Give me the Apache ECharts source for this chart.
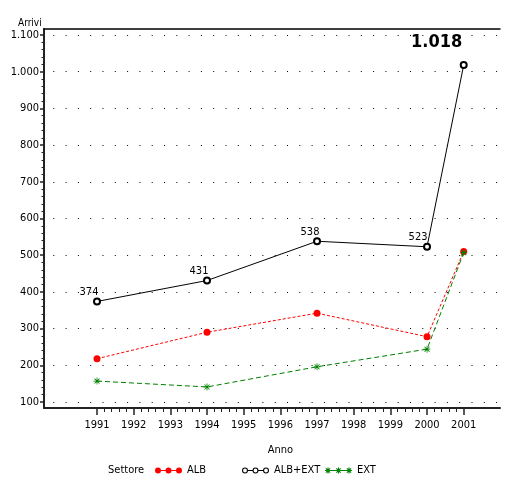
<!DOCTYPE html>
<html><head><meta charset="utf-8">
<script src="https://cdn.jsdelivr.net/npm/echarts@6/dist/echarts.min.js"></script>
<style>html,body{margin:0;padding:0;background:#fff}#c{width:505px;height:480px}</style>
</head><body><div id="c"></div>
<script>
// ---- data ----
const years = [1991, 1994, 1997, 2000, 2001];
const alb = [218, 290, 342, 278, 510];
const albExt = [374, 431, 538, 523, 1018];
const ext = [157, 141, 196, 244, 507];
const seriesNames = ['ALB', 'ALB+EXT', 'EXT'];
const xMin = 1991, xMax = 2001;
const yMin = 100, yMax = 1100, yStep = 100;
const xTitle = 'Anno', yTitle = 'Arrivi', legendTitle = 'Settore';

// ---- styles ----
const FONT = "'DejaVu Sans Condensed', 'Liberation Sans Narrow', sans-serif";
const fmt = v => String(Math.round(v)).replace(/\B(?=(\d{3})+(?!\d))/g, '.');
const circ = (cx, cy, r, rev) => `M${cx - r},${cy}a${r},${r} 0 1,${rev ? 1 : 0} ${2 * r},0a${r},${r} 0 1,${rev ? 1 : 0} ${-2 * r},0Z`;
const star = (cx, cy, r) => {
  const t = 0.55, d = r * 0.707;
  return `M${cx - r},${cy - t}h${2 * r}v${2 * t}h${-2 * r}Z` +
    `M${cx - t},${cy - r}h${2 * t}v${2 * r}h${-2 * t}Z` +
    `M${cx - d - 0.4},${cy - d + 0.4}L${cx - d + 0.4},${cy - d - 0.4}L${cx + d + 0.4},${cy + d - 0.4}L${cx + d - 0.4},${cy + d + 0.4}Z` +
    `M${cx + d - 0.4},${cy - d - 0.4}L${cx + d + 0.4},${cy - d + 0.4}L${cx - d + 0.4},${cy + d + 0.4}L${cx - d - 0.4},${cy + d - 0.4}Z`;
};
const seg = (x0, x1) => `M${x0},2.5h${x1 - x0}v1h${x0 - x1}Z`;
const cxs = [3, 13.5, 24];
const iconALB = 'path://' + cxs.map(c => circ(c, 3, 3)).join('') + seg(6, 10.5) + seg(16.5, 21);
const iconALBEXT = 'path://' + cxs.map(c => circ(c, 3, 3) + circ(c, 3, 1.9, true)).join('') + seg(6, 10.5) + seg(16.5, 21);
const iconEXT = 'path://' + cxs.map(c => star(c, 3, 3)).join('') + seg(6, 10.5) + seg(16.5, 21);
const starSymbol = 'path://' + star(5, 5, 5);

const labelStyle = [
  { offset: [-8, 0], fontSize: 11, fontWeight: 'normal' },
  { offset: [-8, 0], fontSize: 11, fontWeight: 'normal' },
  { offset: [-7, 0], fontSize: 11, fontWeight: 'normal' },
  { offset: [-9, 0], fontSize: 11, fontWeight: 'normal' },
  { offset: [-27, -10], fontSize: 18, fontWeight: 'bold' }
];

const pairs = vals => years.map((y, i) => [y, vals[i]]);

const chart = echarts.init(document.getElementById('c'), null, { renderer: 'canvas' });
const hidden = { axisLine: { show: false }, axisTick: { show: false }, axisLabel: { show: false }, splitLine: { show: false } };
const axisLineStyle = { color: '#222', width: 2 };

chart.setOption({
  animation: false,
  backgroundColor: '#fff',
  textStyle: { fontFamily: FONT },
  title: [
    { text: yTitle, left: 18, top: 18, padding: 0, textStyle: { fontFamily: FONT, fontSize: 10, fontWeight: 'normal', color: '#000' } },
    { text: legendTitle, left: 108, top: 465, padding: 0, textStyle: { fontFamily: FONT, fontSize: 11, fontWeight: 'normal', color: '#000' } }
  ],
  legend: [
    { data: [seriesNames[0]], left: 155, top: 465, icon: iconALB },
    { data: [seriesNames[1]], left: 242, top: 465, icon: iconALBEXT },
    { data: [seriesNames[2]], left: 325, top: 465, icon: iconEXT }
  ].map(l => Object.assign(l, {
    itemWidth: 27, itemHeight: 6, itemGap: 5, selectedMode: false, padding: 0,
    itemStyle: { borderWidth: 0 },
    textStyle: { fontFamily: FONT, fontSize: 11, color: '#000' }
  })),
  grid: [
    { left: 44, right: 5, top: 29, bottom: 72 },
    { left: 44, right: 5, top: 35, bottom: 78 },
    { left: 97, right: 41.3, top: 35, bottom: 78 }
  ],
  xAxis: [
    Object.assign({ gridIndex: 0, type: 'value', min: 0, max: 1, position: 'bottom' }, hidden, { axisLine: { show: true, lineStyle: axisLineStyle } }),
    Object.assign({ gridIndex: 0, type: 'value', min: 0, max: 1, position: 'top' }, hidden, { axisLine: { show: true, lineStyle: { color: '#000', width: 1.5 } } }),
    Object.assign({ gridIndex: 1, type: 'value', min: 0, max: 1 }, hidden),
    {
      gridIndex: 2, type: 'value', min: xMin, max: xMax, interval: 1, position: 'bottom', offset: 6,
      name: xTitle, nameLocation: 'middle', nameGap: 37,
      nameTextStyle: { fontFamily: FONT, fontSize: 11, color: '#000' },
      axisLine: { show: false },
      axisTick: { show: true, length: 7, lineStyle: { color: '#222', width: 1.5 } },
      minorTick: { show: true, splitNumber: 5, length: 4, lineStyle: { color: '#222', width: 1 } },
      axisLabel: { margin: 12, fontFamily: FONT, fontSize: 11, color: '#000', formatter: v => String(v) },
      splitLine: { show: false }
    }
  ],
  yAxis: [
    Object.assign({ gridIndex: 0, type: 'value', min: 0, max: 1 }, hidden, { axisLine: { show: true, lineStyle: axisLineStyle } }),
    Object.assign({ gridIndex: 1, type: 'value', min: yMin, max: yMax, interval: yStep }, hidden, {
      splitLine: { show: true, lineStyle: { color: '#000', width: 1, type: [1, 11.3], dashOffset: 3 } }
    }),
    {
      gridIndex: 2, type: 'value', min: yMin, max: yMax, interval: yStep, position: 'left', offset: 53,
      axisLine: { show: false },
      axisTick: { show: true, length: 4, lineStyle: { color: '#222', width: 1.5 } },
      minorTick: { show: true, splitNumber: 5, length: 2.5, lineStyle: { color: '#222', width: 1 } },
      axisLabel: { margin: 5, fontFamily: FONT, fontSize: 11, color: '#000', formatter: v => fmt(v) },
      splitLine: { show: false }
    }
  ],
  series: [
    {
      name: seriesNames[0], type: 'line', xAxisIndex: 3, yAxisIndex: 2,
      data: pairs(alb), symbol: 'circle', symbolSize: 7,
      itemStyle: { color: '#ff0000' },
      lineStyle: { color: '#ff0000', width: 1, type: [3, 2] }
    },
    {
      name: seriesNames[2], type: 'line', xAxisIndex: 3, yAxisIndex: 2,
      data: pairs(ext), symbol: starSymbol, symbolSize: 7,
      itemStyle: { color: '#008000' },
      lineStyle: { color: '#008000', width: 1, type: [5, 3] }
    },
    {
      name: seriesNames[1], type: 'line', xAxisIndex: 3, yAxisIndex: 2,
      data: pairs(albExt).map((p, i) => ({
        value: p,
        label: Object.assign({ show: true, position: 'top', distance: 0, formatter: d => fmt(d.value[1]), fontFamily: FONT, color: '#000' }, labelStyle[i])
      })),
      symbol: 'emptyCircle', symbolSize: 6,
      itemStyle: { color: '#000', borderWidth: 1.2 },
      lineStyle: { color: '#000', width: 1 }
    }
  ]
});
</script>
</body></html>
